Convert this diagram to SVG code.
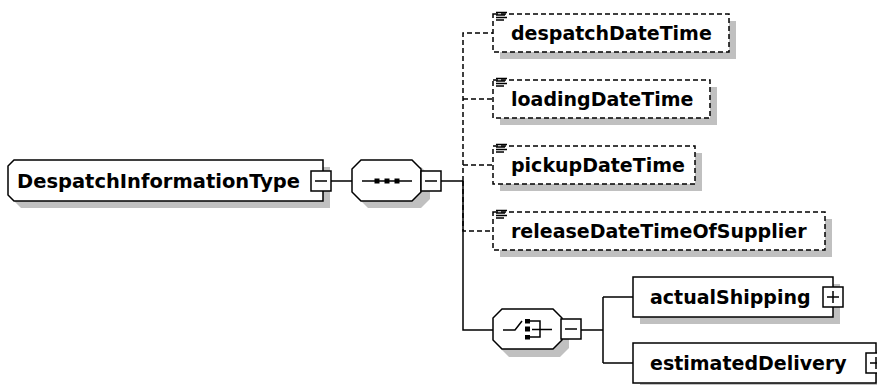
<svg xmlns="http://www.w3.org/2000/svg" width="877" height="385" viewBox="0 0 877 385">
<style>
.shadow{fill:#c0c0c0;stroke:none}
.box{fill:#fff;stroke:#000;stroke-width:1.5}
.opt{fill:#fff;stroke:#000;stroke-width:1.5;stroke-dasharray:5 3}
.line{fill:none;stroke:#000;stroke-width:1.5}
.dline{fill:none;stroke:#000;stroke-width:1.5;stroke-dasharray:5 3}
.lbl{font-family:"DejaVu Sans",Verdana,sans-serif;font-weight:bold;font-size:19px;fill:#000}
.ico{stroke:#000;stroke-width:1.4}
</style>
<rect width="877" height="385" fill="#fff"/>
<g id="connectors">
  <path class="line" d="M331,181H352M441,181H463"/>
  <path class="dline" d="M463,181V33H493M463,99H493M463,165H493M463,181V231H493"/>
  <path class="line" d="M463,181V330H493"/>
  <path class="line" d="M581,330H603M603,297V363M603,297H633M603,363H633"/>
</g>
<g id="DespatchInformationType">
  <path class="shadow" d="M21,167H330V208H21L15,202V173Z"/>
  <path class="box" d="M14,160H323V201H14L8,195V166Z"/>
  <text class="lbl" x="17" y="188" textLength="283" lengthAdjust="spacingAndGlyphs">DespatchInformationType</text>
  <rect class="box" x="311" y="171" width="20" height="20"/>
  <path class="line" d="M315,181H327"/>
</g>
<g id="sequence">
  <path class="shadow" d="M368,167H421L430,176V199L421,208H368L359,199V176Z"/>
  <path class="box" d="M361,160H412L421,169V192L412,201H361L352,192V169Z"/>
  <path class="line" d="M362,181H412"/>
  <rect x="374.5" y="178.5" width="5" height="5" fill="#000"/>
  <rect x="384.5" y="178.5" width="5" height="5" fill="#000"/>
  <rect x="394.5" y="178.5" width="5" height="5" fill="#000"/>
  <rect class="box" x="421" y="171" width="20" height="20"/>
  <path class="line" d="M425,181H437"/>
</g>
<g id="despatchDateTime">
  <rect class="shadow" x="500" y="21" width="236" height="38"/>
  <rect class="opt" x="493" y="14" width="236" height="38"/>
  <path class="ico" d="M496,12.5H507M496,15H505M496,17.5H507M496,20H504"/>
  <text class="lbl" x="511" y="40">despatchDateTime</text>
</g>
<g id="loadingDateTime">
  <rect class="shadow" x="500" y="87" width="217" height="38"/>
  <rect class="opt" x="493" y="80" width="217" height="38"/>
  <path class="ico" d="M496,78.5H507M496,81H505M496,83.5H507M496,86H504"/>
  <text class="lbl" x="511" y="106">loadingDateTime</text>
</g>
<g id="pickupDateTime">
  <rect class="shadow" x="500" y="153" width="202" height="38"/>
  <rect class="opt" x="493" y="146" width="202" height="38"/>
  <path class="ico" d="M496,144.5H507M496,147H505M496,149.5H507M496,152H504"/>
  <text class="lbl" x="511" y="172">pickupDateTime</text>
</g>
<g id="releaseDateTimeOfSupplier">
  <rect class="shadow" x="500" y="219" width="332" height="38"/>
  <rect class="opt" x="493" y="212" width="332" height="38"/>
  <path class="ico" d="M496,210.5H507M496,213H505M496,215.5H507M496,218H504"/>
  <text class="lbl" x="511" y="238">releaseDateTimeOfSupplier</text>
</g>
<g id="choice">
  <path class="shadow" d="M509,316H560L569,325V348L560,357H509L500,348V325Z"/>
  <path class="box" d="M502,309H553L562,318V340L553,349H502L493,340V318Z"/>
  <path class="line" d="M503,330H515L522,321"/>
  <rect x="525" y="319" width="5" height="4.5" fill="#000"/>
  <rect x="525" y="326.5" width="5" height="5" fill="#000"/>
  <rect x="525" y="335" width="5" height="4.5" fill="#000"/>
  <path class="line" d="M530,321H540V337H530M532,329.5H552"/>
  <rect class="box" x="561" y="319" width="20" height="20"/>
  <path class="line" d="M565,329H577"/>
</g>
<g id="actualShipping">
  <rect class="shadow" x="640" y="284" width="200" height="40"/>
  <rect class="box" x="633" y="277" width="200" height="40"/>
  <text class="lbl" x="650" y="304">actualShipping</text>
  <rect class="box" x="823" y="287" width="20" height="20"/>
  <path class="line" d="M827,297H839M833,291V303"/>
</g>
<g id="estimatedDelivery">
  <rect class="shadow" x="640" y="350" width="243" height="40"/>
  <rect class="box" x="633" y="343" width="243" height="40"/>
  <text class="lbl" x="650" y="370">estimatedDelivery</text>
  <rect class="box" x="866" y="353" width="20" height="20"/>
  <path class="line" d="M870,363H882M876,357V369"/>
</g>
</svg>
